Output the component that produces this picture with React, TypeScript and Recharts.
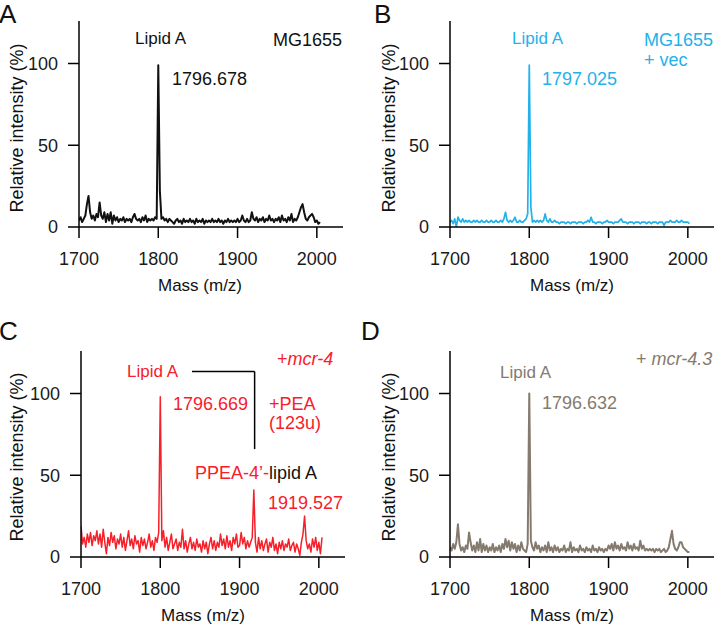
import React from 'react';
import { LineChart, Line, XAxis, YAxis, ReferenceLine } from 'recharts';

// ---- data ----
const MASS_START = 1700;
const MASS_STEP = 2;
const massTicks = [1700, 1800, 1900, 2000];
const intensityTicks = [0, 50, 100];
const massDomain = [1700, 2033];
const intensityDomain = [0, 126];

// MG1655 (black)
const spectrumA = [
  4, 6, 3, 5, 7, 14, 19, 9, 5, 7,
  4, 8, 6, 15, 7, 5, 9, 3, 8, 4,
  9, 2, 7, 4, 6, 3, 5, 4, 6, 3,
  5, 4, 5, 3, 6, 8, 5, 4, 5, 3,
  6, 4, 7, 3, 5, 4, 5, 4, 6, 5,
  99, 22, 5, 6, 4, 5, 3, 5, 4, 3,
  2, 4, 5, 3, 4, 2, 5, 3, 4, 3,
  5, 3, 4, 2, 5, 3, 4, 3, 5, 2,
  4, 3, 4, 3, 5, 3, 4, 3, 5, 3,
  4, 2, 4, 3, 5, 3, 4, 3, 4, 3,
  5, 3, 4, 7, 4, 3, 5, 3, 4, 9,
  5, 4, 6, 3, 5, 4, 6, 3, 5, 4,
  7, 4, 5, 3, 5, 4, 6, 3, 7, 4,
  5, 3, 6, 4, 8, 3, 5, 4, 6, 9,
  12, 14, 9, 5, 4, 6, 7, 8, 6, 3,
  4, 2, 3,
];

// MG1655 + vec (cyan)
const spectrumB = [
  3, 4, 2, 5, 0, 6, 4, 3, 5, 3,
  4, 3, 4, 3, 3, 4, 3, 4, 3, 3,
  4, 3, 3, 4, 3, 3, 4, 3, 3, 4,
  3, 3, 4, 3, 5, 9, 4, 3, 4, 3,
  4, 6, 3, 3, 4, 3, 3, 4, 5, 8,
  99, 12, 3, 4, 3, 4, 3, 4, 3, 4,
  8, 4, 3, 5, 3, 3, 4, 3, 3, 2,
  3, 3, 3, 2, 3, 3, 2, 3, 3, 3,
  2, 3, 3, 3, 2, 3, 3, 4, 3, 6,
  3, 3, 2, 3, 3, 3, 2, 3, 3, 4,
  3, 3, 3, 2, 3, 3, 3, 4, 5, 3,
  3, 3, 2, 3, 3, 3, 2, 3, 3, 3,
  2, 3, 3, 3, 2, 3, 3, 2, 3, 3,
  3, 2, 3, 3, 3, 1, 3, 3, 3, 4,
  3, 3, 3, 4, 3, 3, 4, 3, 3, 3,
  3, 2,
];

// + mcr-4 (red)
const spectrumC = [
  19, 8, 12, 6, 14, 9, 15, 7, 13, 10,
  16, 8, 14, 6, 17, 9, 2, 12, 7, 15,
  9, 13, 5, 11, 8, 14, 6, 12, 4, 10,
  16, 7, 11, 5, 13, 8, 10, 3, 12, 7,
  11, 5, 9, 14, 6, 10, 4, 12, 9, 15,
  98, 10, 16, 6, 12, 4, 9, 14, 5, 8,
  11, 4, 9, 6, 17, 5, 10, 3, 8, 12,
  5, 9, 4, 11, 6, 8, 3, 10, 5, 9,
  2, 8, 12, 5, 10, 4, 9, 6, 14, 7,
  11, 5, 13, 6, 10, 4, 12, 8, 14, 6,
  7, 15, 8, 12, 5, 10, 6, 9, 12, 41,
  9, 3, 12, 5, 10, 4, 8, 11, 3, 9,
  6, 12, 4, 8, 2, 9, 5, 10, 4, 8,
  6, 11, 4, 7, 9, 3, 8, 5, 1, 9,
  14, 25, 10, 5, 8, 3, 11, 6, 12, 4,
  9, 2, 12,
];

// + mcr-4.3 (grey-brown)
const spectrumD = [
  6, 4, 8, 5, 9, 20, 8, 4, 6, 3,
  7, 5, 15, 9, 4, 7, 3, 9, 4, 11,
  3, 8, 4, 7, 3, 6, 4, 8, 3, 6,
  4, 7, 3, 8, 5, 11, 6, 10, 4, 9,
  5, 8, 3, 7, 4, 9, 5, 4, 3, 8,
  100, 10, 6, 4, 9, 5, 7, 3, 6, 4,
  7, 3, 9, 4, 6, 3, 7, 4, 6, 3,
  5, 4, 7, 3, 5, 4, 9, 3, 6, 4,
  5, 3, 7, 4, 5, 3, 6, 4, 5, 3,
  7, 4, 5, 3, 6, 4, 5, 3, 5, 4,
  7, 5, 8, 4, 9, 5, 7, 4, 8, 5,
  6, 4, 9, 5, 7, 4, 8, 5, 6, 4,
  10, 5, 7, 4, 5, 4, 5, 4, 5, 3,
  5, 4, 5, 3, 4, 5, 3, 4, 6, 11,
  16, 8, 5, 4, 6, 9, 9, 6, 5, 4,
  3, 3,
];

// ---- styling ----
const FONT = '"Liberation Sans", Arial, Helvetica, sans-serif';
const BLACK = '#111111';
const CYAN = '#22b2e9';
const RED = '#f7202a';
const BROWN = '#857a6e';

const toRows = (values: number[]) =>
  values.map((v, i) => ({ mass: MASS_START + i * MASS_STEP, intensity: v }));

type Box = { x: number; y: number; w: number; h: number };
type Plot = { left: number; right: number; top: number; bottom: number };

const YW = 60;
const XH = 30;

function Panel(props: {
  box: Box;
  plot: Plot;
  values: number[];
  color: string;
  sw: number;
  children?: React.ReactNode;
}) {
  const { box, plot, values, color, sw, children } = props;
  const margin = {
    top: plot.top,
    left: plot.left - YW,
    right: box.w - plot.right,
    bottom: box.h - plot.bottom - XH,
  };
  const axisStyle = { stroke: '#000', strokeWidth: 1.5 };
  const tickStyle = { fill: '#1a1a1a', fontSize: 18, fontFamily: FONT };
  return (
    <div style={{ position: 'absolute', left: box.x, top: box.y, width: box.w, height: box.h }}>
      <LineChart width={box.w} height={box.h} data={toRows(values)} margin={margin}>
        <XAxis
          dataKey="mass"
          type="number"
          domain={massDomain}
          allowDataOverflow
          ticks={massTicks}
          interval={0}
          height={XH}
          tickSize={11}
          tickMargin={14}
          axisLine={axisStyle}
          tickLine={axisStyle}
          tick={tickStyle}
        />
        <YAxis
          type="number"
          domain={intensityDomain}
          allowDataOverflow
          ticks={intensityTicks}
          interval={0}
          width={YW}
          tickSize={11}
          tickMargin={10}
          axisLine={axisStyle}
          tickLine={axisStyle}
          tick={tickStyle}
        />
        <Line
          type="linear"
          dataKey="intensity"
          stroke={color}
          strokeWidth={sw}
          strokeLinejoin="round"
          dot={false}
          isAnimationActive={false}
        />
        {children}
      </LineChart>
    </div>
  );
}

function T(props: {
  x: number;
  y: number;
  size?: number;
  fill?: string;
  anchor?: 'start' | 'middle' | 'end';
  children: React.ReactNode;
}) {
  return (
    <text
      x={props.x}
      y={props.y}
      fontSize={props.size ?? 18}
      fill={props.fill ?? BLACK}
      textAnchor={props.anchor ?? 'start'}
      fontFamily={FONT}
    >
      {props.children}
    </text>
  );
}

function YLabel({ cx, cy }: { cx: number; cy: number }) {
  return (
    <text
      x={cx}
      y={cy}
      fontSize={18}
      fill={BLACK}
      textAnchor="middle"
      dominantBaseline="central"
      fontFamily={FONT}
      transform={`rotate(-90 ${cx} ${cy})`}
    >
      Relative intensity (%)
    </text>
  );
}

export default function App() {
  return (
    <div style={{ position: 'absolute', left: 0, top: 0, width: 714, height: 625, background: '#fff', overflow: 'hidden' }}>
      <Panel box={{ x: 0, y: 0, w: 357, h: 312 }} plot={{ left: 79, right: 343, top: 21, bottom: 227 }} values={spectrumA} color={BLACK} sw={2} />
      <Panel box={{ x: 357, y: 0, w: 357, h: 312 }} plot={{ left: 93, right: 357, top: 21, bottom: 227 }} values={spectrumB} color={CYAN} sw={1.7} />
      <Panel box={{ x: 0, y: 312, w: 357, h: 313 }} plot={{ left: 81, right: 345, top: 39, bottom: 245 }} values={spectrumC} color={RED} sw={1.5}>
        <ReferenceLine
          segment={[{ x: 1840, y: 113.5 }, { x: 1919, y: 113.5 }]}
          stroke="#000"
          strokeWidth={1.5}
        />
        <ReferenceLine
          segment={[{ x: 1919, y: 113.5 }, { x: 1919, y: 66 }]}
          stroke="#000"
          strokeWidth={1.5}
        />
      </Panel>
      <Panel box={{ x: 357, y: 312, w: 357, h: 313 }} plot={{ left: 93, right: 357, top: 39, bottom: 245 }} values={spectrumD} color={BROWN} sw={2} />

      <svg width={714} height={625} style={{ position: 'absolute', left: 0, top: 0, pointerEvents: 'none' }}>
        {/* Panel A */}
        <T x={-1} y={23} size={26}>A</T>
        <T x={135} y={44} size={17}>Lipid A</T>
        <T x={273} y={46}>MG1655</T>
        <T x={172} y={85}>1796.678</T>
        <YLabel cx={17} cy={128} />
        <T x={200} y={291} size={17} anchor="middle">Mass (m/z)</T>

        {/* Panel B */}
        <T x={374} y={23} size={26}>B</T>
        <T x={512} y={44} size={17} fill={CYAN}>Lipid A</T>
        <T x={644} y={46} fill={CYAN}>MG1655</T>
        <T x={644} y={66} fill={CYAN}>+ vec</T>
        <T x={542} y={85} fill={CYAN}>1797.025</T>
        <YLabel cx={389} cy={128} />
        <T x={572} y={291} size={17} anchor="middle">Mass (m/z)</T>

        {/* Panel C */}
        <T x={-1} y={340} size={26}>C</T>
        <text x={277} y={365} fontSize={18} fill={RED} fontFamily={FONT}>
          +<tspan fontStyle="italic">mcr-4</tspan>
        </text>
        <T x={127} y={377} size={17} fill={RED}>Lipid A</T>
        <T x={173} y={410} fill={RED}>1796.669</T>
        <T x={269} y={410} fill={RED}>+PEA</T>
        <T x={269} y={429} fill={RED}>(123u)</T>
        <text x={195} y={479} fontSize={18} fill={RED} fontFamily={FONT}>
          PPEA-4’-<tspan fill={BLACK}>lipid A</tspan>
        </text>
        <T x={268} y={509} fill={RED}>1919.527</T>
        <YLabel cx={17} cy={457} />
        <T x={203} y={621} size={17} anchor="middle">Mass (m/z)</T>

        {/* Panel D */}
        <T x={361} y={340} size={26}>D</T>
        <text x={636} y={365} fontSize={18} fill={BROWN} fontFamily={FONT}>
          + <tspan fontStyle="italic">mcr-4.3</tspan>
        </text>
        <T x={500} y={378} size={17} fill={BROWN}>Lipid A</T>
        <T x={542} y={409} fill={BROWN}>1796.632</T>
        <YLabel cx={389} cy={457} />
        <T x={572} y={621} size={17} anchor="middle">Mass (m/z)</T>
      </svg>
    </div>
  );
}
